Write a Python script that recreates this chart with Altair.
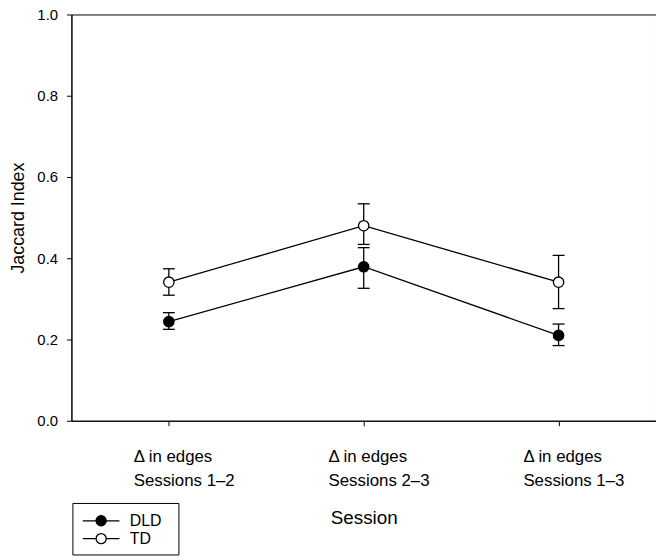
import altair as alt
import pandas as pd

sessions = ["Δ in edges\nSessions 1–2", "Δ in edges\nSessions 2–3", "Δ in edges\nSessions 1–3"]
groups = ["DLD", "TD"]
dld_mean = [0.244, 0.379, 0.210]
dld_lo = [0.225, 0.326, 0.185]
dld_hi = [0.266, 0.426, 0.238]
td_mean = [0.341, 0.480, 0.341]
td_lo = [0.309, 0.434, 0.276]
td_hi = [0.374, 0.534, 0.407]

rows = []
for g, m, lo, hi in [("DLD", dld_mean, dld_lo, dld_hi), ("TD", td_mean, td_lo, td_hi)]:
    for s, mv, l, h in zip(sessions, m, lo, hi):
        rows.append({"session": s, "group": g, "mean": mv, "lo": l, "hi": h})
df = pd.DataFrame(rows)

FONT = "Liberation Sans"

x = alt.X(
    "session:N",
    sort=sessions,
    scale=alt.Scale(type="point", padding=0.5),
    axis=alt.Axis(
        title="Session",
        labelAngle=0,
        labelExpr="split(datum.label, '\\n')",
        labelAlign="left",
        labelOffset=-36,
        labelFontSize=17,
        labelLineHeight=24,
        labelPadding=23,
        titleFontSize=19,
        titlePadding=21,
        tickSize=5,
    ),
)
yscale = alt.Scale(domain=[0, 1])
yaxis = alt.Axis(
    title="Jaccard Index",
    values=[0, 0.2, 0.4, 0.6, 0.8, 1.0],
    format=".1f",
    labelFontSize=15,
    labelPadding=9,
    tickSize=5,
    titleFontSize=18,
    titlePadding=9,
)

base = alt.Chart(df)

lines = base.mark_line(color="black", strokeWidth=1.3).encode(
    x=x, y=alt.Y("mean:Q", scale=yscale, axis=yaxis), detail="group:N"
)
bars = base.mark_rule(color="black", strokeWidth=1.3).encode(
    x=x, y=alt.Y("lo:Q", scale=yscale), y2="hi:Q"
)
cap_lo = base.mark_tick(orient="horizontal", size=12, thickness=1.3, color="black", opacity=1).encode(
    x=x, y=alt.Y("lo:Q", scale=yscale)
)
cap_hi = base.mark_tick(orient="horizontal", size=12, thickness=1.3, color="black", opacity=1).encode(
    x=x, y=alt.Y("hi:Q", scale=yscale)
)

sym_path = "M-2,0H-0.55M0.55,0H2M-0.55,0a0.55,0.55 0 1,0 1.1,0a0.55,0.55 0 1,0 -1.1,0"

points = base.mark_point(
    filled=True, size=110, stroke="black", strokeWidth=1.3, opacity=1, shape="circle"
).encode(
    x=x,
    y=alt.Y("mean:Q", scale=yscale),
    fill=alt.Fill(
        "group:N",
        scale=alt.Scale(domain=groups, range=["black", "white"]),
        legend=alt.Legend(
            title=None,
            orient="none",
            legendX=1,
            legendY=493,
            symbolType=sym_path,
            symbolSize=342,
            symbolStrokeColor="black",
            symbolStrokeWidth=1.3,
            symbolOffset=11,
            labelOffset=19,
            labelFontSize=16,
            labelFont=FONT,
            labelColor="black",
            labelExpr="datum.label + '  \u200b'",
            strokeColor="black",
            fillColor="white",
            padding=8,
            rowPadding=0,
        ),
    ),
)

chart = (
    alt.layer(lines, bars, cap_lo, cap_hi, points)
    .properties(
        width=590,
        height=410,
        autosize=alt.AutoSizeParams(type="none"),
        padding={"left": 64, "top": 4, "right": 0, "bottom": 136},
    )
    .configure_view(stroke="black", strokeWidth=1)
    .configure_axis(
        grid=False,
        domainColor="black",
        tickColor="black",
        labelColor="black",
        titleColor="black",
        labelFont=FONT,
        titleFont=FONT,
        titleFontWeight="normal",
    )
)

chart.save("out.html", embed_options={"renderer": "svg", "actions": False})
